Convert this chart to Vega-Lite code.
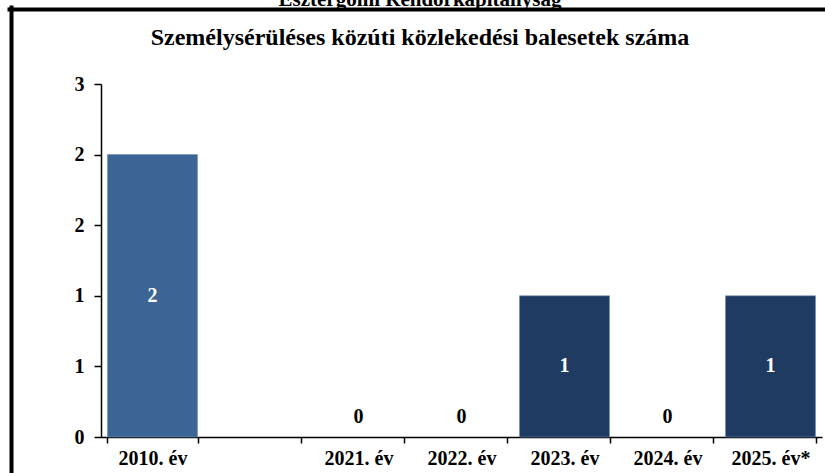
{
  "$schema": "https://vega.github.io/schema/vega-lite/v6.json",
  "width": 814,
  "height": 464,
  "autosize": {"type": "none"},
  "padding": {"left": 11, "top": 9, "right": 0, "bottom": 0},
  "background": "white",
  "view": {"stroke": null, "fill": "white"},
  "config": {"font": "Liberation Serif"},
  "title": {
    "text": "Esztergomi Rendőrkapitányság",
    "subtitle": "Személysérüléses közúti közlekedési balesetek száma",
    "anchor": "middle",
    "frame": "group",
    "offset": -41,
    "dx": 2,
    "font": "Liberation Serif",
    "fontSize": 21,
    "fontWeight": "bold",
    "color": "black",
    "subtitleFont": "Liberation Serif",
    "subtitleFontSize": 24,
    "subtitleFontWeight": "bold",
    "subtitleColor": "black",
    "subtitlePadding": 16
  },
  "data": {
    "values": [
      {"year": "2010. év", "value": 2},
      {"year": "2021. év", "value": 0},
      {"year": "2022. év", "value": 0},
      {"year": "2023. év", "value": 1},
      {"year": "2024. év", "value": 0},
      {"year": "2025. év*", "value": 1}
    ]
  },
  "layer": [
    {
      "transform": [{"filter": "datum.value > 0"}],
      "mark": {"type": "bar", "stroke": "#6f8fb8", "strokeWidth": 1, "strokeOpacity": 0.6},
      "encoding": {
        "x": {
          "field": "year",
          "type": "nominal",
          "sort": null,
          "scale": {
            "domain": ["2010. év", " ", "2021. év", "2022. év", "2023. év", "2024. év", "2025. év*"],
            "range": [90, 811],
            "paddingInner": 0.126,
            "paddingOuter": 0.063
          },
          "axis": {
            "orient": "bottom",
            "title": null,
            "labelAngle": 0,
            "labelFont": "Liberation Serif",
            "labelFontSize": 20,
            "labelFontWeight": "bold",
            "labelColor": "black",
            "domainColor": "black",
            "domainWidth": 1.5,
            "tickColor": "black",
            "tickWidth": 1.5,
            "tickSize": 6,
            "tickBand": "extent",
            "labelPadding": 5,
            "offset": -36,
            "grid": false
          }
        },
        "y": {
          "field": "value",
          "type": "quantitative",
          "scale": {"domain": [0, 2.5], "range": [428, 75], "nice": false, "zero": true},
          "axis": {
            "orient": "left",
            "values": [0, 0.5, 1, 1.5, 2, 2.5],
            "labelExpr": "round(datum.value)",
            "title": null,
            "offset": -90,
            "labelFont": "Liberation Serif",
            "labelFontSize": 20,
            "labelFontWeight": "bold",
            "labelColor": "black",
            "domainColor": "black",
            "domainWidth": 1.5,
            "tickColor": "black",
            "tickWidth": 1.5,
            "tickSize": 7,
            "labelPadding": 10,
            "grid": false
          }
        },
        "color": {
          "field": "year",
          "type": "nominal",
          "scale": {
            "domain": ["2010. év", "2021. év", "2022. év", "2023. év", "2024. év", "2025. év*"],
            "range": ["#3c6595", "#1f3b61", "#1f3b61", "#1f3b61", "#1f3b61", "#1f3b61"]
          },
          "legend": null
        }
      }
    },
    {
      "transform": [{"filter": "datum.value > 0"}],
      "mark": {"type": "text", "color": "white", "font": "Liberation Serif", "fontSize": 20, "fontWeight": "bold", "baseline": "middle"},
      "encoding": {
        "x": {
          "field": "year",
          "type": "nominal",
          "sort": null,
          "scale": {
            "domain": ["2010. év", " ", "2021. év", "2022. év", "2023. év", "2024. év", "2025. év*"],
            "range": [90, 811],
            "paddingInner": 0.126,
            "paddingOuter": 0.063
          },
          "axis": null
        },
        "y": {
          "field": "value",
          "type": "quantitative",
          "scale": {"domain": [0, 5], "range": [428, 75], "nice": false, "zero": true},
          "axis": null
        },
        "text": {"field": "value", "type": "quantitative"}
      }
    },
    {
      "transform": [{"filter": "datum.value == 0"}],
      "mark": {"type": "text", "color": "black", "font": "Liberation Serif", "fontSize": 20, "fontWeight": "bold", "baseline": "alphabetic", "dy": -14},
      "encoding": {
        "x": {
          "field": "year",
          "type": "nominal",
          "sort": null,
          "scale": {
            "domain": ["2010. év", " ", "2021. év", "2022. év", "2023. év", "2024. év", "2025. év*"],
            "range": [90, 811],
            "paddingInner": 0.126,
            "paddingOuter": 0.063
          },
          "axis": null
        },
        "y": {
          "field": "value",
          "type": "quantitative",
          "scale": {"domain": [0, 5], "range": [428, 75], "nice": false, "zero": true},
          "axis": null
        },
        "text": {"field": "value", "type": "quantitative"}
      }
    },
    {
      "data": {"values": [{"frame": 0}]},
      "mark": {"type": "text", "text": ""},
      "encoding": {
        "x": {
          "field": "frame",
          "type": "quantitative",
          "scale": {"domain": [0, 1], "range": [-2, 820], "nice": false, "zero": false},
          "axis": {"orient": "top", "offset": 0, "domainColor": "black", "domainWidth": 4, "domainCap": "square", "ticks": false, "labels": false, "grid": false, "title": null, "zindex": 2}
        },
        "y": {
          "field": "frame",
          "type": "quantitative",
          "scale": {"domain": [0, 1], "range": [470, -2], "nice": false, "zero": false},
          "axis": {"orient": "left", "offset": 0, "domainColor": "black", "domainWidth": 4, "domainCap": "square", "ticks": false, "labels": false, "grid": false, "title": null, "zindex": 2}
        }
      }
    }
  ],
  "resolve": {
    "scale": {"x": "independent", "y": "independent"},
    "axis": {"x": "independent", "y": "independent"}
  }
}
